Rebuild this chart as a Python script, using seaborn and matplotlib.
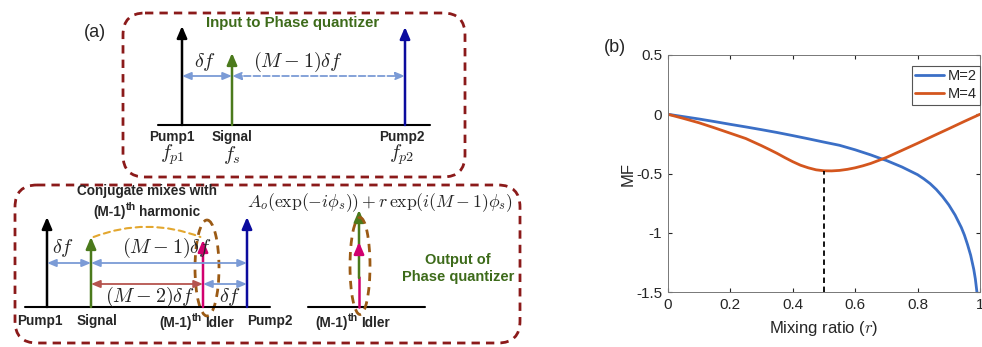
import numpy as np
import pandas as pd
import matplotlib
matplotlib.use('Agg')
import matplotlib.pyplot as plt
import seaborn as sns
from matplotlib.patches import FancyBboxPatch, Ellipse, FancyArrowPatch

# Panel (b) values
r_m2 = [0, 0.05, 0.1, 0.15, 0.2, 0.25, 0.3, 0.35, 0.4, 0.45, 0.5, 0.55, 0.6, 0.65, 0.68,
        0.7, 0.75, 0.8, 0.82, 0.84, 0.86, 0.88, 0.9, 0.92, 0.94, 0.95, 0.96, 0.97,
        0.975, 0.98, 0.985, 0.99]
mf_m2 = [0, -0.02, -0.04, -0.062, -0.085, -0.107, -0.13, -0.154, -0.18, -0.207, -0.235,
         -0.262, -0.3, -0.343, -0.372, -0.39, -0.445, -0.51, -0.545, -0.585, -0.635,
         -0.695, -0.765, -0.85, -0.955, -1.02, -1.1, -1.19, -1.25, -1.31, -1.39, -1.5]
r_m4 = [0, 0.05, 0.1, 0.15, 0.2, 0.25, 0.3, 0.325, 0.35, 0.375, 0.4, 0.425, 0.45, 0.475,
        0.5, 0.525, 0.55, 0.575, 0.6, 0.625, 0.65, 0.7, 0.75, 0.8, 0.85, 0.9, 0.95, 1.0]
mf_m4 = [0, -0.035, -0.072, -0.115, -0.16, -0.205, -0.265, -0.297, -0.33, -0.366, -0.4,
         -0.43, -0.452, -0.469, -0.477, -0.478, -0.474, -0.465, -0.452, -0.435, -0.415,
         -0.365, -0.305, -0.245, -0.183, -0.122, -0.06, 0]
r_min = 0.5
mf_min = -0.477

series_names = ['M=2', 'M=4']
series_colors = ['#3b6fc6', '#d4561e']
x_ticks = [0, 0.2, 0.4, 0.6, 0.8, 1]
y_ticks = [0.5, 0, -0.5, -1, -1.5]

df = pd.concat([
    pd.DataFrame({'r': r_m2, 'MF': mf_m2, 'M': 'M=2'}),
    pd.DataFrame({'r': r_m4, 'MF': mf_m4, 'M': 'M=4'}),
])

sns.set_style('white')
plt.rcParams['font.family'] = ['Liberation Sans', 'DejaVu Sans']
plt.rcParams['mathtext.fontset'] = 'cm'
plt.rcParams['axes.unicode_minus'] = False

fig = plt.figure(figsize=(9.82, 3.47), dpi=100)

# ---- panel (a): schematic drawn in pixel coordinates ----
ax = fig.add_axes([0, 0, 1, 1])
ax.set_xlim(0, 982)
ax.set_ylim(347, 0)
ax.axis('off')

box_red = '#8b1a1a'
green = '#4b7a1c'
green_txt = '#3d6b1a'
blue = '#0b0b9e'
magenta = '#d1006f'
light_blue = '#7b9bd6'
red_brown = '#b5544e'
brown = '#9b5a14'
gold = '#e3a72f'
dash = (0, (3, 2.2))


def up_arrow(x, y0, y1, color, z=3):
    ax.annotate('', xy=(x, y1), xytext=(x, y0), zorder=z,
                arrowprops=dict(arrowstyle='-|>,head_length=0.7,head_width=0.3',
                                color=color, lw=1.8, shrinkA=0, shrinkB=0,
                                mutation_scale=10))


def span_arrow(x0, x1, y, color, ls='-'):
    ax.annotate('', xy=(x1, y), xytext=(x0, y),
                arrowprops=dict(arrowstyle='<|-|>,head_length=0.6,head_width=0.25',
                                color=color, lw=1.3, ls=ls, shrinkA=0, shrinkB=0,
                                mutation_scale=9))


def rounded_box(x0, y0, x1, y1):
    ax.add_patch(FancyBboxPatch((x0, y0), x1 - x0, y1 - y0,
                                boxstyle='round,pad=0,rounding_size=22',
                                fill=False, ec=box_red, lw=2, ls=dash))


renderer = fig.canvas.get_renderer()


def th_label(x, y, left, right, size=9.8):
    # "(M-1)" + superscript "th" + "Idler", centred on x
    pieces = [(left, size, 0), ('th', size * 0.78, -5), (right, size, 0)]
    objs = []
    for s, fs, dy in pieces:
        t = ax.text(0, y + dy, s, fontsize=fs, fontweight='bold', ha='left', va='center')
        objs.append(t)
    widths = [t.get_window_extent(renderer).width for t in objs]
    gap = 3
    total = sum(widths) + gap
    xc = x - total / 2
    for i, (t, w) in enumerate(zip(objs, widths)):
        t.set_x(xc)
        xc += w + (gap if i == 1 else 0)


bold = dict(fontsize=9.8, fontweight='bold', ha='center', va='center')
math = dict(fontsize=14.5, ha='center', va='center')

ax.text(95, 32, '(a)', fontsize=13, ha='center', va='center')

# top box: input
rounded_box(123, 13, 465, 177)
ax.text(293, 23, 'Input to Phase quantizer', color=green_txt, fontsize=10.8,
        fontweight='bold', ha='center', va='center')
ax.plot([158, 430], [125, 125], color='black', lw=1.5)
up_arrow(182, 125, 26, 'black')
up_arrow(232, 125, 53, green)
up_arrow(405, 125, 27, blue)
span_arrow(182, 232, 76, light_blue)
span_arrow(232, 405, 76, light_blue, ls='--')
ax.text(205, 62, r'$\delta f$', **math)
ax.text(298, 62, r'$(M-1)\delta f$', **math)
ax.text(172, 137, 'Pump1', **bold)
ax.text(232, 137, 'Signal', **bold)
ax.text(402, 137, 'Pump2', **bold)
ax.text(172, 155, r'$f_{p1}$', **math)
ax.text(232, 155, r'$f_{s}$', **math)
ax.text(402, 155, r'$f_{p2}$', **math)

# bottom box: output
rounded_box(15, 185, 520, 343)
ax.text(147, 191, 'Conjugate mixes with', **bold)
th_label(147, 212, '(M-1)', 'harmonic')
ax.plot([25, 270], [307, 307], color='black', lw=1.5)
up_arrow(47, 307, 217, 'black')
up_arrow(91, 307, 237, green)
up_arrow(203, 307, 240, magenta)
up_arrow(247, 307, 217, blue)
ax.add_patch(FancyArrowPatch((91, 238), (203, 238), arrowstyle='-',
                             connectionstyle='arc3,rad=-0.2', color=gold,
                             lw=1.5, ls=dash))
ax.add_patch(Ellipse((207, 268), 24, 96, fill=False, ec=brown, lw=2, ls=dash))
span_arrow(47, 91, 263, light_blue)
span_arrow(91, 247, 263, light_blue)
span_arrow(91, 203, 284, red_brown)
span_arrow(203, 247, 284, light_blue)
ax.text(63, 248, r'$\delta f$', **math)
ax.text(167, 248, r'$(M-1)\delta f$', **math)
ax.text(150, 297, r'$(M-2)\delta f$', **math)
ax.text(230, 297, r'$\delta f$', **math)
ax.text(40, 321, 'Pump1', **bold)
ax.text(97, 321, 'Signal', **bold)
th_label(197, 323, '(M-1)', 'Idler')
ax.text(270, 321, 'Pump2', **bold)

ax.plot([308, 425], [307, 307], color='black', lw=1.5)
ax.plot([359, 359], [307, 277], color=magenta, lw=1.8, zorder=3)
up_arrow(359, 278, 210, green, z=4)
up_arrow(359, 252, 242, magenta, z=5)
ax.add_patch(Ellipse((360, 266), 20, 97, fill=False, ec=brown, lw=2, ls=dash, zorder=6))
th_label(353, 323, '(M-1)', 'Idler')
ax.text(380, 203, r'$A_o(\exp(-i\phi_s))+r\,\exp(i(M-1)\phi_s)$', fontsize=12.7,
        ha='center', va='center')
ax.text(458, 260, 'Output of', color=green_txt, fontsize=10.5, fontweight='bold',
        ha='center', va='center')
ax.text(458, 277, 'Phase quantizer', color=green_txt, fontsize=10.5, fontweight='bold',
        ha='center', va='center')

# ---- panel (b): seaborn line plot ----
bx = fig.add_axes([0.680, 0.1585, 0.318, 0.683])
sns.lineplot(data=df, x='r', y='MF', hue='M', hue_order=series_names,
             palette=series_colors, lw=2, ax=bx, sort=False)
bx.plot([r_min, r_min], [-1.5, mf_min], color='black', lw=1.3, ls=(0, (3, 2)))
bx.set_xlim(0, 1)
bx.set_ylim(-1.5, 0.5)
bx.set_xticks(x_ticks)
bx.set_xticklabels(['%g' % t for t in x_ticks])
bx.set_yticks(y_ticks)
bx.set_yticklabels(['%g' % t for t in y_ticks])
bx.tick_params(direction='in', length=3, labelsize=11, colors='#262626',
               top=True, right=True, left=True, bottom=True, pad=4)
for s in bx.spines.values():
    s.set_color('#777777')
    s.set_linewidth(0.7)
bx.set_xlabel(r'Mixing ratio ($r$)', fontsize=12, labelpad=5)
bx.set_ylabel('MF', fontsize=12, labelpad=0)
leg = bx.legend(loc='upper right', bbox_to_anchor=(1.0, 0.955), borderaxespad=0,
                fontsize=10.5, frameon=True, fancybox=False, framealpha=1,
                handlelength=2.0, handletextpad=0.2, borderpad=0.25, labelspacing=0.25)
leg.get_frame().set_edgecolor('#555555')
leg.get_frame().set_linewidth(0.8)
ax.text(615, 47, '(b)', fontsize=13, ha='center', va='center')

fig.savefig('out.png', dpi=100)
